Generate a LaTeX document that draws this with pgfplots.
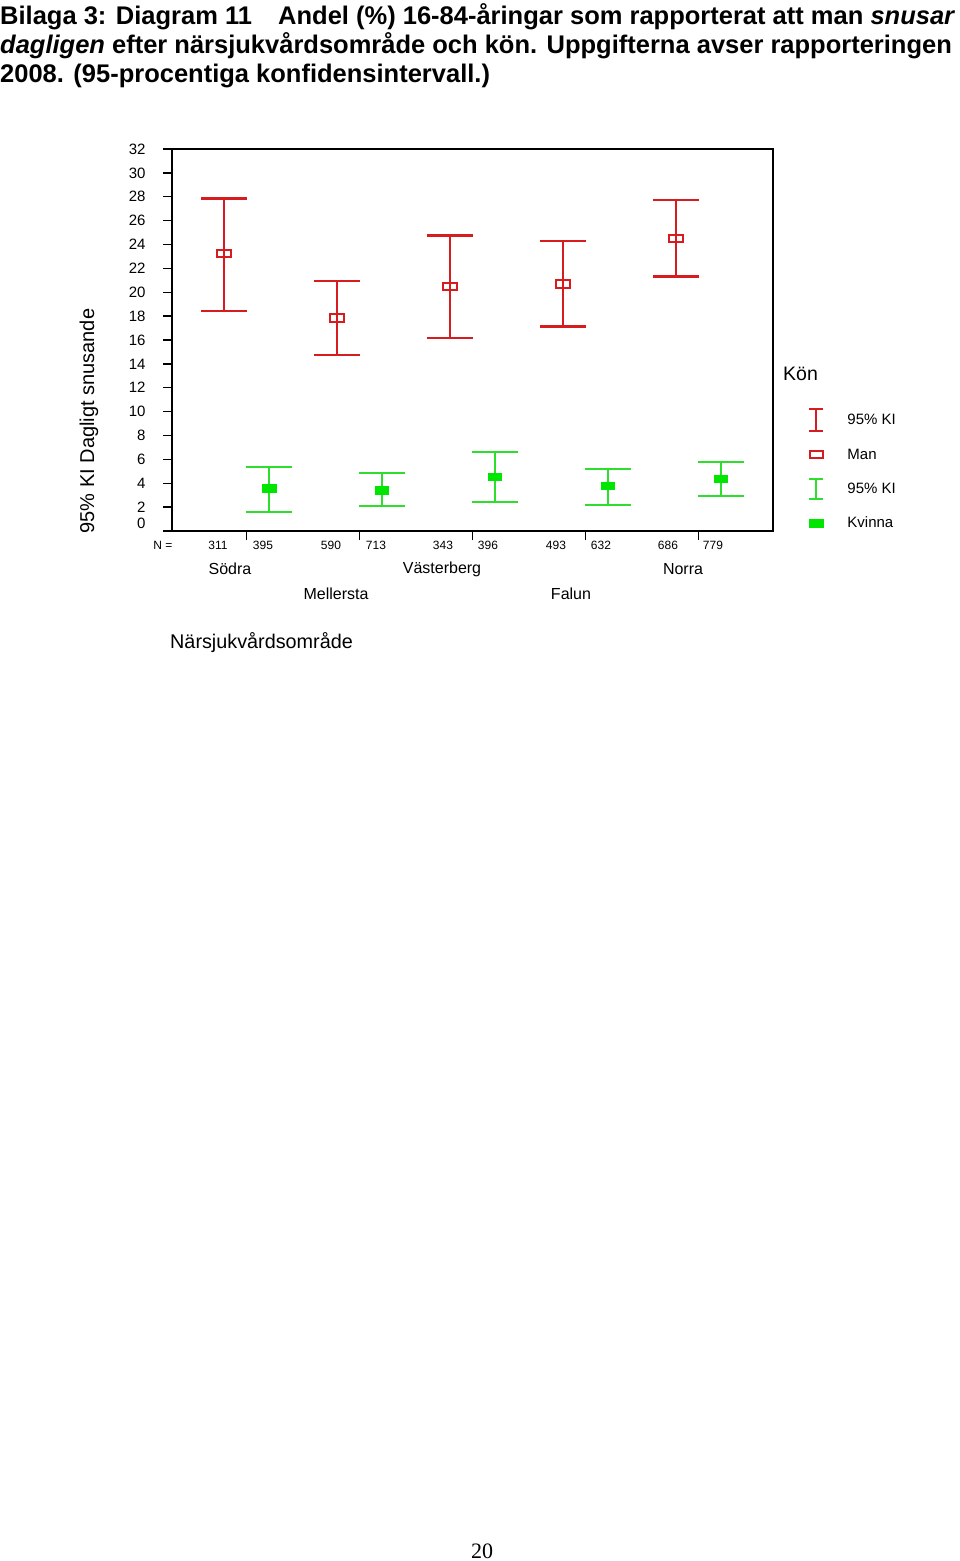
\documentclass[border=0pt]{standalone}
\usepackage{pgfplots}
\pgfplotsset{compat=1.18}
\usepackage{fontspec}
\setmainfont{Liberation Sans}
\newfontfamily\seriffont{Liberation Serif}
\definecolor{redc}{RGB}{214,28,30}
\definecolor{greenc}{RGB}{45,222,45}
\definecolor{greenf}{RGB}{0,230,0}
\newcommand{\fs}[1]{\fontsize{#1}{#1}\selectfont}
\begin{document}
\begin{tikzpicture}
\useasboundingbox (0pt,0pt) rectangle (960pt,-1561pt);
% title
\node[anchor=base west, inner sep=0pt, font=\fs{25.5}\bfseries] at (0pt,-24pt) {Bilaga 3: Diagram 11};
\node[anchor=base west, inner sep=0pt, font=\fs{25.5}\bfseries] at (278pt,-24pt) {Andel (\%) 16-84-åringar som rapporterat att man \textit{snusar}};
\node[anchor=base west, inner sep=0pt, font=\fs{25.5}\bfseries] at (0pt,-53pt) {\textit{dagligen} efter närsjukvårdsområde och kön. Uppgifterna avser rapporteringen};
\node[anchor=base west, inner sep=0pt, font=\fs{25.5}\bfseries] at (0pt,-82pt) {2008. (95-procentiga konfidensintervall.)};
\begin{axis}[
  at={(172pt,-531pt)}, anchor=south west,
  scale only axis, width=601pt, height=382pt,
  xmin=-0.66, xmax=4.66, ymin=0, ymax=32,
  clip=false,
  axis line style={line width=2.2pt, black},
  xtick={0,1,2,3,4}, xticklabels={},
  ytick={2,4,...,32},
  extra y ticks={0},
  extra y tick style={yticklabel style={yshift=8pt}},
  tick align=outside, xtick pos=bottom, ytick pos=left,
  major tick length=9pt,
  tick style={line width=1.3pt, black},
  /pgf/number format/assume math mode=true,
  yticklabel style={font=\fs{15}, anchor=east, xshift=-14pt},
  legend style={draw=none, fill=none, at={(axis description cs:1.058,0.323)}, anchor=north west,
    font=\fs{15}, row sep=16pt, column sep=22pt, inner sep=0pt, nodes={inner sep=1pt}},
  legend cell align=left,
]
\addplot[forget plot, only marks, mark=square, mark size=3.7pt,
  mark options={xscale=1.85, line width=2pt, draw=redc, fill=none},
  error bars/.cd, y dir=both, y explicit,
  error bar style={line width=2.2pt, draw=redc},
  error mark options={rotate=90, mark size=23pt, line width=2.2pt, draw=redc}]
coordinates {
 (-0.2,23.24) += (0,4.61) -= (0,4.80)
 (0.8,17.85) += (0,3.11) -= (0,3.10)
 (1.8,20.48) += (0,4.28) -= (0,4.30)
 (2.8,20.70) += (0,3.61) -= (0,3.57)
 (3.8,24.50) += (0,3.25) -= (0,3.18)
};
\addplot[forget plot, only marks, mark=square*, mark size=3.7pt,
  mark options={xscale=1.85, line width=1pt, draw=greenf, fill=greenf},
  error bars/.cd, y dir=both, y explicit,
  error bar style={line width=2.2pt, draw=greenc},
  error mark options={rotate=90, mark size=23pt, line width=2.2pt, draw=greenc}]
coordinates {
 (0.2,3.55) += (0,1.79) -= (0,1.93)
 (1.2,3.41) += (0,1.45) -= (0,1.31)
 (2.2,4.50) += (0,2.12) -= (0,2.04)
 (3.2,3.77) += (0,1.43) -= (0,1.56)
 (4.2,4.36) += (0,1.42) -= (0,1.43)
};
\addlegendimage{legend image code/.code={
  \draw[redc, line width=2pt] (8pt,-11pt) -- (8pt,11pt);
  \draw[redc, line width=2pt] (1pt,-11pt) -- (15pt,-11pt);
  \draw[redc, line width=2pt] (1pt,11pt) -- (15pt,11pt);
  \path (0pt,0pt) (16pt,0pt);}}
\addlegendentry{95\% KI}
\addlegendimage{legend image code/.code={
  \draw[redc, line width=2pt] (1.5pt,-3.5pt) rectangle (14.5pt,3.5pt);
  \path (0pt,0pt) (16pt,0pt);}}
\addlegendentry{Man}
\addlegendimage{legend image code/.code={
  \draw[greenc, line width=2pt] (8pt,-10pt) -- (8pt,10pt);
  \draw[greenc, line width=2pt] (1pt,-10pt) -- (15pt,-10pt);
  \draw[greenc, line width=2pt] (1pt,10pt) -- (15pt,10pt);
  \path (0pt,0pt) (16pt,0pt);}}
\addlegendentry{95\% KI}
\addlegendimage{legend image code/.code={
  \fill[greenf] (1pt,-4pt) rectangle (15pt,4pt);
  \path (0pt,0pt) (16pt,0pt);}}
\addlegendentry{Kvinna}
\end{axis}
% axis label
\node[rotate=90, font=\fs{20}] at (89pt,-421pt) {95\% KI Dagligt snusande};
% N values
\begin{scope}[every node/.style={font=\fs{12}}]
\node at (163pt,-545pt) {N =};
\node at (218pt,-545pt) {311};
\node at (263pt,-545pt) {395};
\node at (331pt,-545pt) {590};
\node at (376pt,-545pt) {713};
\node at (443pt,-545pt) {343};
\node at (488pt,-545pt) {396};
\node at (556pt,-545pt) {493};
\node at (601pt,-545pt) {632};
\node at (668pt,-545pt) {686};
\node at (713pt,-545pt) {779};
\end{scope}
\begin{scope}[every node/.style={font=\fs{16}}]
\node at (230pt,-569pt) {Södra};
\node at (442pt,-569pt) {Västerberg};
\node at (683pt,-569pt) {Norra};
\node at (336pt,-594pt) {Mellersta};
\node at (571pt,-594pt) {Falun};
\end{scope}
\node[anchor=west, inner sep=0pt, font=\fs{19.8}] at (170pt,-643pt) {Närsjukvårdsområde};
\node[anchor=west, inner sep=0pt, font=\fs{19.5}] at (783pt,-374pt) {Kön};
\node[font=\seriffont\fs{22}] at (482pt,-1551pt) {20};
\end{tikzpicture}
\end{document}
